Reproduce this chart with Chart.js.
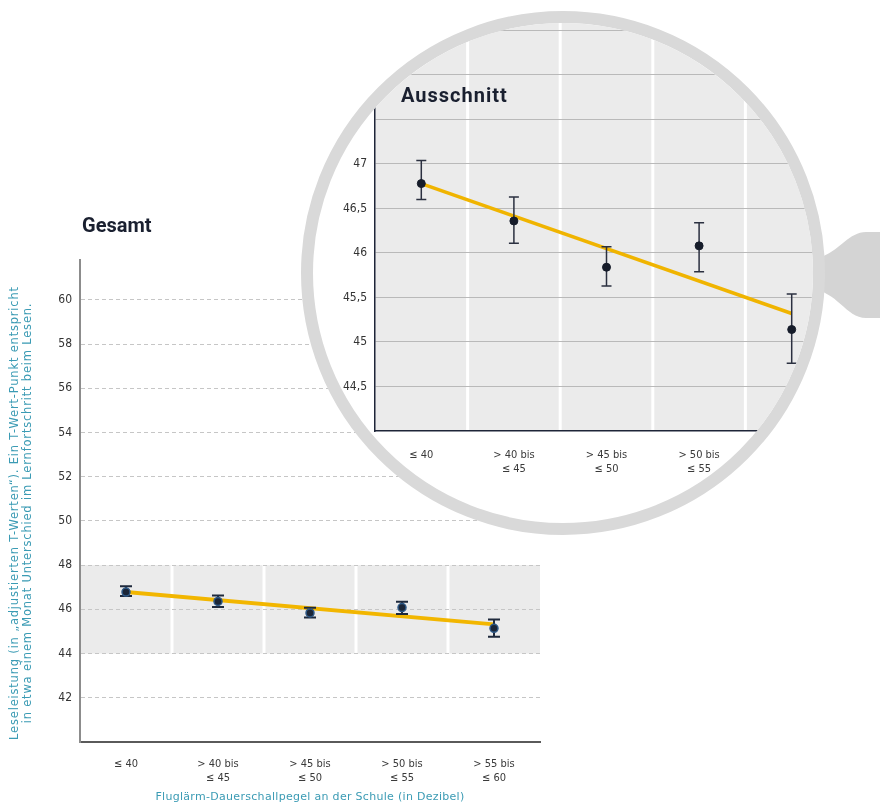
<!DOCTYPE html>
<html>
<head>
<meta charset="utf-8">
<script src="https://cdn.jsdelivr.net/npm/chart.js@4.4.1/dist/chart.umd.min.js"></script>
<style>
html,body{margin:0;padding:0;background:#fff;width:880px;height:805px;overflow:hidden;}
#wrap{position:relative;width:880px;height:805px;}
#mainBox{position:absolute;left:0;top:0;width:560px;height:805px;}
#handle{position:absolute;left:0;top:0;width:880px;height:805px;}
#lens{position:absolute;left:301px;top:11px;width:524px;height:524px;box-sizing:border-box;border:12px solid #d9d9d9;border-radius:50%;overflow:hidden;background:#fff;}
#zoomBox{position:absolute;left:-13px;top:-23px;width:560px;height:560px;}
.wide{font-family:'DejaVu Sans','Liberation Sans',sans-serif;}
.ttl{position:absolute;font-family:Roboto,'DejaVu Sans',sans-serif;font-weight:700;font-size:20px;line-height:20px;color:#1a2030;white-space:nowrap;}
#ytitle{position:absolute;width:520px;left:-239px;top:500px;height:26px;line-height:13px;font-size:11.5px;letter-spacing:0.8px;text-align:center;transform:rotate(-90deg);color:#3b9bb4;white-space:nowrap;}
#xtitle{position:absolute;left:0;width:620px;top:790px;line-height:14px;font-size:11px;letter-spacing:0.3px;text-align:center;color:#3b9bb4;white-space:nowrap;}
</style>
</head>
<body>
<div id="wrap">
  <div id="mainBox"><canvas id="mainChart" width="560" height="805"></canvas></div>
  <svg id="handle" width="880" height="805"><path d="M 812 258 C 836 258, 846 232, 866 232 L 880 232 L 880 318 L 866 318 C 846 318, 836 290, 812 290 Z" fill="#d4d4d4"/></svg>
  <div id="lens"><div id="zoomBox"><canvas id="zoomChart" width="560" height="560"></canvas></div></div>
  <div class="ttl" style="left:82px;top:215px;">Gesamt</div>
  <div class="ttl" style="left:401px;top:85px;letter-spacing:1px;">Ausschnitt</div>
  <div id="ytitle" class="wide">Leseleistung (in „adjustierten T-Werten“). Ein T-Wert-Punkt entspricht<br>in etwa einem Monat Unterschied im Lernfortschritt beim Lesen.</div>
  <div id="xtitle" class="wide">Fluglärm-Dauerschallpegel an der Schule (in Dezibel)</div>
</div>
<script>
// ---- data ----
const categories = [["≤ 40"], ["> 40 bis", "≤ 45"], ["> 45 bis", "≤ 50"], ["> 50 bis", "≤ 55"], ["> 55 bis", "≤ 60"]];
const means   = [46.78, 46.36, 45.84, 46.08, 45.14];
const errLow  = [46.60, 46.11, 45.63, 45.79, 44.76];
const errHigh = [47.04, 46.63, 46.07, 46.34, 45.54];
const trend   = [46.78, null, null, null, 45.32];
const mainYTicks = [42, 44, 46, 48, 50, 52, 54, 56, 58, 60];
const zoomYGrid  = [44.5, 45, 45.5, 46, 46.5, 47, 47.5, 48, 48.5];
const zoomYTicks = [44.5, 45, 45.5, 46, 46.5, 47];
const mainBand = [44, 48];

const FONT = "'DejaVu Sans Condensed','Liberation Sans Narrow','Roboto Condensed','DejaVu Sans',sans-serif";

const bandPlugin = {
  id: 'band',
  beforeDraw(chart, args, opts) {
    const {ctx, chartArea: a, scales: {x, y}} = chart;
    const top = opts.full ? a.top : y.getPixelForValue(opts.to);
    const bottom = opts.full ? a.bottom : y.getPixelForValue(opts.from);
    ctx.save();
    ctx.fillStyle = opts.color;
    ctx.fillRect(a.left, top, a.right - a.left, bottom - top);
    ctx.strokeStyle = '#ffffff';
    ctx.lineWidth = opts.sepWidth;
    for (let i = 0; i < chart.data.labels.length - 1; i++) {
      const xp = (x.getPixelForValue(i) + x.getPixelForValue(i + 1)) / 2;
      ctx.beginPath(); ctx.moveTo(xp, top); ctx.lineTo(xp, bottom); ctx.stroke();
    }
    ctx.restore();
  }
};

const errorBarPlugin = {
  id: 'errorBars',
  afterDatasetDraw(chart, args, opts) {
    if (args.index !== 0) return;
    const {ctx, scales: {x, y}} = chart;
    ctx.save();
    ctx.strokeStyle = opts.color;
    ctx.lineWidth = opts.width;
    errLow.forEach((lo, i) => {
      const xp = x.getPixelForValue(i);
      const y1 = y.getPixelForValue(lo), y2 = y.getPixelForValue(errHigh[i]);
      const h = opts.cap / 2;
      ctx.beginPath();
      ctx.moveTo(xp, y1); ctx.lineTo(xp, y2);
      ctx.moveTo(xp - h, y1); ctx.lineTo(xp + h, y1);
      ctx.moveTo(xp - h, y2); ctx.lineTo(xp + h, y2);
      ctx.stroke();
    });
    ctx.restore();
  }
};

const fmt = v => String(v).replace('.', ',');

function makeConfig(p) {
  return {
    type: 'line',
    data: {
      labels: categories,
      datasets: [
        { data: trend, spanGaps: true, borderColor: p.trendColor, borderWidth: p.trendWidth, pointRadius: 0, order: 1, borderCapStyle: 'butt' },
        { data: means, showLine: false, pointRadius: p.pointRadius, pointBackgroundColor: p.pointColor, pointBorderColor: p.pointBorder, pointBorderWidth: p.pointBorderWidth, order: 0 }
      ]
    },
    options: {
      responsive: false,
      animation: false,
      events: [],
      layout: { padding: p.padding },
      plugins: {
        legend: { display: false },
        tooltip: { enabled: false },
        band: p.band,
        errorBars: p.err
      },
      scales: {
        x: {
          type: 'category',
          offset: true,
          grid: { display: false },
          border: { display: true, color: p.xBorder, width: p.borderWidth },
          ticks: { color: '#3a3a3a', font: { family: FONT, size: 11, lineHeight: 1.2 }, padding: p.xPad, maxRotation: 0, autoSkip: false },
          afterFit: s => { s.height = p.xHeight; }
        },
        y: {
          min: p.yMin, max: p.yMax,
          afterBuildTicks: s => { s.ticks = p.grid.map(v => ({ value: v })); },
          grid: { color: p.gridColor, lineWidth: 1, drawTicks: false },
          border: { display: true, color: p.yBorder, width: p.borderWidth, dash: p.dash },
          ticks: { color: '#333333', font: { family: FONT, size: 12 }, padding: 8,
                   callback: v => p.labels.includes(v) ? fmt(v) : '' },
          afterFit: s => { s.width = p.yWidth; }
        }
      }
    },
    plugins: [bandPlugin, errorBarPlugin]
  };
}

new Chart(document.getElementById('mainChart'), makeConfig({
  padding: { left: 40, right: 20, top: 260, bottom: 23 },
  yWidth: 40, xHeight: 40, xPad: 8,
  yMin: 40, yMax: 61.8, grid: mainYTicks, labels: mainYTicks,
  gridColor: '#c6c6c6', dash: [4, 3],
  xBorder: '#5a5a5a', yBorder: '#8c8c8c', borderWidth: 2,
  trendColor: '#f2b600', trendWidth: 4,
  pointRadius: 4, pointColor: '#1b2638', pointBorder: '#2f5a88', pointBorderWidth: 1.5,
  band: { from: mainBand[0], to: mainBand[1], color: '#ebebeb', sepWidth: 3 },
  err: { color: '#1f2a3d', width: 2, cap: 12 }
}));

new Chart(document.getElementById('zoomChart'), makeConfig({
  padding: { left: 40, right: 22, top: 18, bottom: 69 },
  yWidth: 35, xHeight: 60, xPad: 10,
  yMin: 44, yMax: 48.64, grid: zoomYGrid, labels: zoomYTicks,
  gridColor: '#b9b9b9', dash: [],
  xBorder: '#1e2538', yBorder: '#1e2538', borderWidth: 1.5,
  trendColor: '#f0b400', trendWidth: 3.5,
  pointRadius: 4, pointColor: '#161c2a', pointBorder: '#161c2a', pointBorderWidth: 1,
  band: { full: true, color: '#ebebeb', sepWidth: 3 },
  err: { color: '#2b3040', width: 1.5, cap: 10 }
}));
</script>
</body>
</html>
